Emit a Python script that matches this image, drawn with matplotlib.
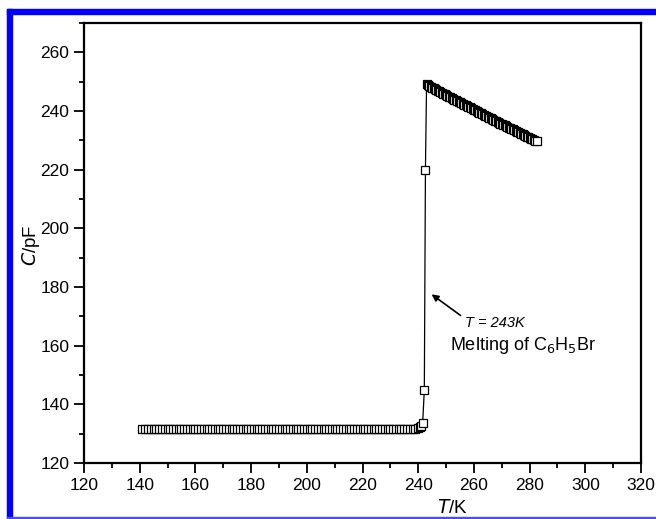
import matplotlib
matplotlib.use("Agg")
import matplotlib.pyplot as plt
from matplotlib.patches import Rectangle
from matplotlib.ticker import MultipleLocator

plt.rcParams["font.family"] = ["Liberation Sans", "DejaVu Sans"]

# flat (solid) region, 1 K steps
T_solid = [141, 142, 143, 144, 145, 146, 147, 148, 149, 150,
           151, 152, 153, 154, 155, 156, 157, 158, 159, 160,
           161, 162, 163, 164, 165, 166, 167, 168, 169, 170,
           171, 172, 173, 174, 175, 176, 177, 178, 179, 180,
           181, 182, 183, 184, 185, 186, 187, 188, 189, 190,
           191, 192, 193, 194, 195, 196, 197, 198, 199, 200,
           201, 202, 203, 204, 205, 206, 207, 208, 209, 210,
           211, 212, 213, 214, 215, 216, 217, 218, 219, 220,
           221, 222, 223, 224, 225, 226, 227, 228, 229, 230,
           231, 232, 233, 234, 235, 236, 237, 238]
C_solid = [131.6, 131.6, 131.5, 131.5, 131.5, 131.5, 131.5, 131.5, 131.5, 131.5,
           131.5, 131.5, 131.5, 131.5, 131.5, 131.5, 131.5, 131.5, 131.5, 131.5,
           131.5, 131.5, 131.5, 131.5, 131.5, 131.5, 131.5, 131.5, 131.5, 131.5,
           131.5, 131.5, 131.5, 131.5, 131.5, 131.5, 131.5, 131.5, 131.5, 131.5,
           131.5, 131.5, 131.5, 131.5, 131.5, 131.5, 131.5, 131.5, 131.5, 131.5,
           131.5, 131.5, 131.5, 131.5, 131.5, 131.5, 131.5, 131.5, 131.5, 131.5,
           131.5, 131.5, 131.5, 131.5, 131.5, 131.5, 131.5, 131.5, 131.5, 131.5,
           131.5, 131.5, 131.5, 131.5, 131.5, 131.5, 131.5, 131.5, 131.5, 131.5,
           131.5, 131.5, 131.5, 131.5, 131.5, 131.5, 131.5, 131.5, 131.5, 131.5,
           131.5, 131.5, 131.5, 131.5, 131.5, 131.5, 131.6, 131.6]

# melting jump
T_melt = [239, 240, 240.5, 241, 241.6, 242.2, 242.6]
C_melt = [131.7, 131.9, 132.2, 132.6, 133.5, 145.0, 220.0]

# liquid region, 0.5 K steps
T_liquid = [243, 243.5, 244, 244.5, 245, 245.5, 246, 246.5, 247, 247.5,
            248, 248.5, 249, 249.5, 250, 250.5, 251, 251.5, 252, 252.5,
            253, 253.5, 254, 254.5, 255, 255.5, 256, 256.5, 257, 257.5,
            258, 258.5, 259, 259.5, 260, 260.5, 261, 261.5, 262, 262.5,
            263, 263.5, 264, 264.5, 265, 265.5, 266, 266.5, 267, 267.5,
            268, 268.5, 269, 269.5, 270, 270.5, 271, 271.5, 272, 272.5,
            273, 273.5, 274, 274.5, 275, 275.5, 276, 276.5, 277, 277.5,
            278, 278.5, 279, 279.5, 280, 280.5, 281, 281.5, 282, 282.7]
C_liquid = [249.2, 248.8, 248.5, 248.2, 248.0, 247.7, 247.5, 247.2, 246.9, 246.7,
            246.4, 246.2, 245.9, 245.7, 245.4, 245.2, 244.9, 244.7, 244.4, 244.2,
            243.9, 243.7, 243.4, 243.2, 242.9, 242.7, 242.4, 242.2, 241.9, 241.7,
            241.4, 241.2, 240.9, 240.7, 240.4, 240.2, 239.9, 239.7, 239.4, 239.2,
            238.9, 238.7, 238.4, 238.2, 238.0, 237.7, 237.5, 237.2, 237.0, 236.7,
            236.5, 236.2, 236.0, 235.7, 235.5, 235.3, 235.1, 234.8, 234.6, 234.3,
            234.1, 233.9, 233.7, 233.4, 233.2, 232.9, 232.7, 232.5, 232.3, 232.0,
            231.8, 231.5, 231.3, 231.1, 230.9, 230.6, 230.4, 230.1, 229.9, 229.7]

T = T_solid + T_melt + T_liquid
C = C_solid + C_melt + C_liquid

fig = plt.figure(figsize=(6.56, 5.19), dpi=100)
ax = fig.add_axes([84 / 656, 1 - 463 / 519, (641 - 84) / 656, (463 - 23) / 519])

ax.plot(T, C, color="black", lw=0.9, marker="s", ms=6.2, mfc="white",
        mec="black", mew=0.9)

ax.set_xlim(120, 320)
ax.set_ylim(120, 270)
ax.xaxis.set_major_locator(MultipleLocator(20))
ax.xaxis.set_minor_locator(MultipleLocator(10))
ax.yaxis.set_minor_locator(MultipleLocator(10))
ax.set_yticks([120, 140, 160, 180, 200, 220, 240, 260])
ax.tick_params(which="both", direction="out", width=1.3, labelsize=12.5,
               top=False, right=False)
ax.tick_params(which="major", length=7)
ax.tick_params(which="minor", length=3.5)
for s in ax.spines.values():
    s.set_linewidth(1.6)

# axis labels placed by hand, like the journal figure
fig.text(31 / 656, 1 - 245 / 519, "$\\mathit{C}$/pF", rotation=90,
         ha="center", va="center", fontsize=13.5)
fig.text(452 / 656, 1 - 508 / 519, "$\\mathit{T}$/K", ha="center",
         va="center", fontsize=13.5)

ax.annotate("", xy=(244.8, 177.5), xytext=(255.2, 170.3),
            arrowprops=dict(arrowstyle="-|>", color="black", lw=1.2,
                            mutation_scale=10, shrinkA=0, shrinkB=0))
ax.text(256.8, 167.6, "T = 243K", fontsize=10.5, style="italic",
        ha="left", va="center")
ax.text(251.4, 160.0, "Melting of C$_6$H$_5$Br", fontsize=13,
        ha="left", va="center")

# blue journal frame
fig.patches.append(Rectangle((7 / 656, 1 - 14 / 519), 1, 5 / 519,
                             transform=fig.transFigure, color="#0000ff",
                             zorder=10))
fig.patches.append(Rectangle((7 / 656, 0), 5 / 656, 1 - 9 / 519,
                             transform=fig.transFigure, color="#0000ff",
                             zorder=10))
fig.patches.append(Rectangle((7 / 656, 0), 1, 2 / 519,
                             transform=fig.transFigure, color="#4a4aff",
                             zorder=10))

fig.savefig("out.png", dpi=100)
